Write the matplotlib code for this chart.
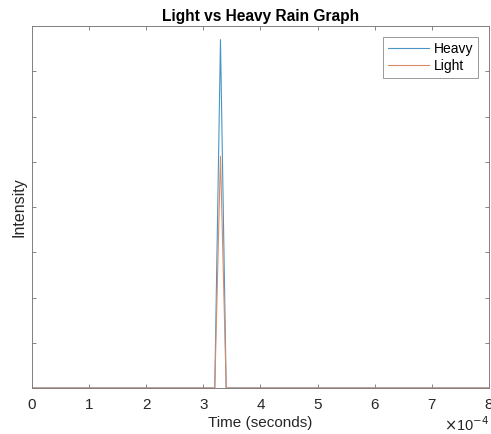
import matplotlib
matplotlib.use("Agg")
import matplotlib.pyplot as plt

time_s = [0.0, 3.2e-4, 3.3e-4, 3.4e-4, 8.0e-4]
heavy = [0.0, 0.0, 7.7, 0.0, 0.0]
light = [0.0, 0.0, 5.12, 0.0, 0.0]
x_ticks = [0, 1, 2, 3, 4, 5, 6, 7, 8]
y_ticks = [0, 1, 2, 3, 4, 5, 6, 7, 8]

plt.rcParams['font.family'] = ['Liberation Sans', 'DejaVu Sans']
fig = plt.figure(figsize=(4.91, 4.34), dpi=100)
ax = fig.add_axes([0.065, 0.106, 0.931, 0.834])

scale = 1e4
ax.plot([t * scale for t in time_s], heavy, color='#4a95c6', lw=0.8, label='Heavy')
ax.plot([t * scale for t in time_s], light, color='#d98a66', lw=0.8, label='Light')

ax.set_xlim(0, 8)
ax.set_ylim(0, 8)
ax.set_xticks(x_ticks)
ax.set_xticklabels([str(v) for v in x_ticks])
ax.set_yticks(y_ticks)
ax.set_yticklabels([])
ax.tick_params(direction='in', top=True, right=True, length=3, width=0.6,
               color='#707070', labelsize=11, labelcolor='#262626', pad=7)
for s in ax.spines.values():
    s.set_color('#808080')
    s.set_linewidth(0.7)

ax.set_title('Light vs Heavy Rain Graph', fontsize=11.2, fontweight='bold', pad=3.5)
ax.set_xlabel('Time (seconds)', fontsize=11, color='#262626', labelpad=3)
ax.set_ylabel('Intensity', fontsize=11.5, color='#262626', labelpad=-3)
ax.text(1.0, -0.1, r'$\times$10$^{-4}$', transform=ax.transAxes, ha='right', va='center',
        fontsize=10.5, color='#262626')

leg = ax.legend(loc='upper right', fontsize=10, frameon=True, fancybox=False,
                edgecolor='#808080', handlelength=3.0, borderpad=0.35,
                labelspacing=0.2, handletextpad=0.3, borderaxespad=0.8)
leg.get_frame().set_linewidth(0.7)

fig.savefig('out.png', dpi=100)
